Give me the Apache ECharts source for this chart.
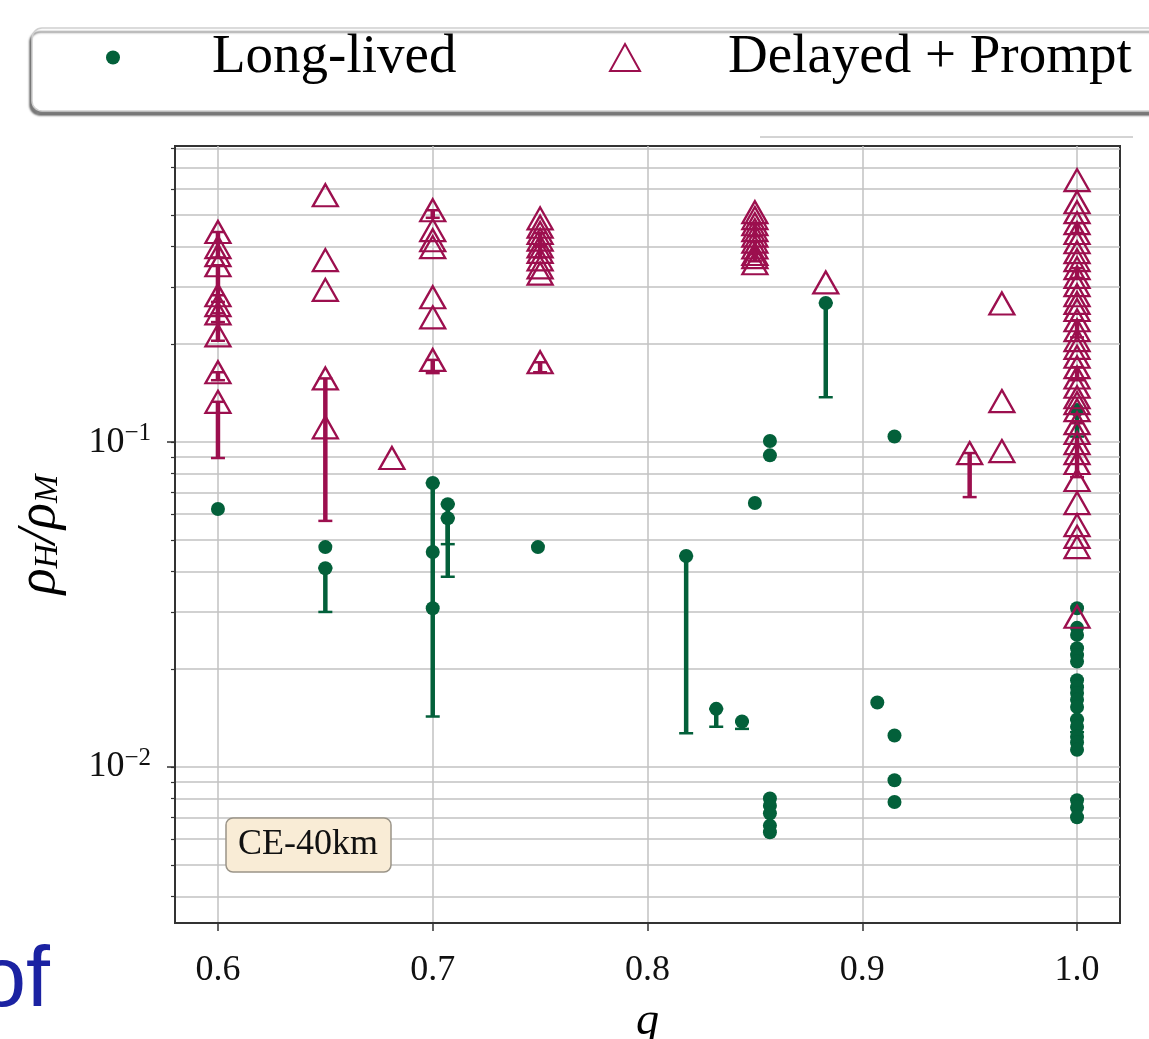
<!DOCTYPE html>
<html>
<head>
<meta charset="utf-8">
<title>CE-40km</title>
<script src="https://cdn.jsdelivr.net/npm/echarts@6/dist/echarts.min.js"></script>
<style>
  html, body { margin: 0; padding: 0; background: #fff; }
  #chart { width: 1149px; height: 1039px; }
</style>
</head>
<body>
<div id="chart"></div>
<script>
// [q, rho_H / rho_M, lower end of error bar or null]
const longLived = [
  [0.600, 0.0622, null],
  [0.650, 0.0475, null],
  [0.650, 0.0409, 0.0300],
  [0.700, 0.0748, 0.0143],
  [0.700, 0.0459, null],
  [0.700, 0.0308, null],
  [0.707, 0.0644, 0.0485],
  [0.707, 0.0583, 0.0385],
  [0.749, 0.0475, null],
  [0.818, 0.0446, 0.0127],
  [0.832, 0.0151, 0.0133],
  [0.844, 0.0138, 0.0131],
  [0.850, 0.0649, null],
  [0.857, 0.1007, null],
  [0.857, 0.0910, null],
  [0.857, 0.0080, null],
  [0.857, 0.0076, null],
  [0.857, 0.0072, null],
  [0.857, 0.0066, null],
  [0.857, 0.0063, null],
  [0.883, 0.268, 0.1374],
  [0.907, 0.0158, null],
  [0.915, 0.104, null],
  [0.915, 0.0125, null],
  [0.915, 0.0091, null],
  [0.915, 0.0078, null],
  [1.000, 0.1254, 0.104],
  [1.000, 0.0308, null],
  [1.000, 0.0268, null],
  [1.000, 0.0255, null],
  [1.000, 0.0232, null],
  [1.000, 0.0221, null],
  [1.000, 0.0211, null],
  [1.000, 0.0185, null],
  [1.000, 0.0176, null],
  [1.000, 0.0169, null],
  [1.000, 0.0161, null],
  [1.000, 0.0153, null],
  [1.000, 0.0140, 0.0128],
  [1.000, 0.0133, null],
  [1.000, 0.0124, null],
  [1.000, 0.0119, null],
  [1.000, 0.0113, null],
  [1.000, 0.0079, null],
  [1.000, 0.0075, null],
  [1.000, 0.0070, null]
];

const delayedPrompt = [
  [0.600, 0.443, 0.37],
  [0.600, 0.398, null],
  [0.600, 0.376, null],
  [0.600, 0.350, 0.27],
  [0.600, 0.283, 0.234],
  [0.600, 0.264, null],
  [0.600, 0.249, 0.205],
  [0.600, 0.213, null],
  [0.600, 0.164, 0.155],
  [0.600, 0.133, 0.0893],
  [0.650, 0.575, null],
  [0.650, 0.363, null],
  [0.650, 0.294, null],
  [0.650, 0.157, 0.0572],
  [0.650, 0.111, null],
  [0.681, 0.0893, null],
  [0.700, 0.517, 0.49],
  [0.700, 0.449, null],
  [0.700, 0.418, null],
  [0.700, 0.398, null],
  [0.700, 0.279, null],
  [0.700, 0.242, null],
  [0.700, 0.179, 0.163],
  [0.750, 0.488, null],
  [0.750, 0.460, null],
  [0.750, 0.440, 0.40],
  [0.750, 0.420, null],
  [0.750, 0.400, 0.37],
  [0.750, 0.385, null],
  [0.750, 0.365, null],
  [0.750, 0.345, null],
  [0.750, 0.330, null],
  [0.750, 0.176, 0.164],
  [0.850, 0.510, null],
  [0.850, 0.489, null],
  [0.850, 0.468, 0.43],
  [0.850, 0.449, null],
  [0.850, 0.432, null],
  [0.850, 0.414, 0.38],
  [0.850, 0.397, null],
  [0.850, 0.379, 0.36],
  [0.850, 0.371, null],
  [0.850, 0.355, null],
  [0.883, 0.310, null],
  [0.950, 0.0925, 0.0677],
  [0.965, 0.267, null],
  [0.965, 0.1337, null],
  [0.965, 0.0938, null],
  [1.000, 0.640, null],
  [1.000, 0.547, null],
  [1.000, 0.510, null],
  [1.000, 0.472, 0.44],
  [1.000, 0.440, null],
  [1.000, 0.412, null],
  [1.000, 0.384, null],
  [1.000, 0.363, null],
  [1.000, 0.343, 0.32],
  [1.000, 0.322, null],
  [1.000, 0.304, null],
  [1.000, 0.283, null],
  [1.000, 0.268, null],
  [1.000, 0.255, null],
  [1.000, 0.237, 0.21],
  [1.000, 0.221, null],
  [1.000, 0.206, null],
  [1.000, 0.195, null],
  [1.000, 0.183, null],
  [1.000, 0.170, 0.155],
  [1.000, 0.158, null],
  [1.000, 0.148, null],
  [1.000, 0.1374, null],
  [1.000, 0.1318, null],
  [1.000, 0.1254, null],
  [1.000, 0.1143, 0.078],
  [1.000, 0.1066, null],
  [1.000, 0.0993, null],
  [1.000, 0.0925, null],
  [1.000, 0.0862, null],
  [1.000, 0.0764, null],
  [1.000, 0.0649, null],
  [1.000, 0.0555, null],
  [1.000, 0.0511, null],
  [1.000, 0.0475, null],
  [1.000, 0.0290, null]
];

const xTicks = [0.6, 0.7, 0.8, 0.9, 1.0];
const yMajorTicks = [0.01, 0.1];
const yGridTicks = [
  0.004, 0.005, 0.006, 0.007, 0.008, 0.009, 0.01,
  0.02, 0.03, 0.04, 0.05, 0.06, 0.07, 0.08, 0.09, 0.1,
  0.2, 0.3, 0.4, 0.5, 0.6, 0.7, 0.8
];

const GREEN = '#03603a';
const CRIMSON = '#9c0f4e';
const SERIF = '"Liberation Serif", "DejaVu Serif", serif';

function errorBars(rows) {
  return rows.filter(r => r[2] != null).map(r => [r[0], r[1], r[2]]);
}

function errorBarItem(color) {
  return function (params, api) {
    const top = api.coord([api.value(0), api.value(1)]);
    const bottom = api.coord([api.value(0), api.value(2)]);
    const cap = 7;
    return {
      type: 'group',
      children: [
        { type: 'line', shape: { x1: top[0], y1: top[1], x2: bottom[0], y2: bottom[1] },
          style: { stroke: color, lineWidth: 4.5 } },
        { type: 'line', shape: { x1: top[0] - cap, y1: top[1], x2: top[0] + cap, y2: top[1] },
          style: { stroke: color, lineWidth: 2.5 } },
        { type: 'line', shape: { x1: bottom[0] - cap, y1: bottom[1], x2: bottom[0] + cap, y2: bottom[1] },
          style: { stroke: color, lineWidth: 2.5 } }
      ]
    };
  };
}

const chart = echarts.init(document.getElementById('chart'));

chart.setOption({
  animation: false,
  backgroundColor: '#fff',
  grid: {
    left: 175, right: 29, top: 146, bottom: 116,
    outerBoundsMode: 'none',
    show: true, borderColor: '#333', borderWidth: 2
  },
  legend: [
    {
      data: [{ name: 'Long-lived', icon: 'circle' }],
      left: 106, top: 30, padding: 0,
      itemWidth: 14, itemHeight: 14,
      selectedMode: false,
      textStyle: { fontFamily: SERIF, fontSize: 55, color: '#000', padding: [0, 0, 0, 87] }
    },
    {
      data: [{ name: 'Delayed + Prompt', icon: 'triangle',
               itemStyle: { color: 'rgba(0,0,0,0)', borderColor: CRIMSON, borderWidth: 2 } }],
      left: 609, top: 30, padding: 0,
      itemWidth: 30, itemHeight: 27,
      selectedMode: false,
      textStyle: { fontFamily: SERIF, fontSize: 55, color: '#000', padding: [0, 0, 0, 83] }
    }
  ],
  xAxis: {
    type: 'value',
    min: 0.58, max: 1.02,
    name: 'q',
    nameLocation: 'middle',
    nameGap: 76,
    nameTextStyle: { fontFamily: SERIF, fontStyle: 'italic', fontSize: 46, color: '#000' },
    axisLine: { lineStyle: { color: '#333', width: 2 } },
    axisTick: { customValues: xTicks, length: 8, lineStyle: { color: '#333', width: 1.5 } },
    axisLabel: {
      customValues: xTicks, margin: 30,
      formatter: v => v.toFixed(1),
      fontFamily: SERIF, fontSize: 36, color: '#111'
    },
    splitLine: { show: true, lineStyle: { color: '#c2c2c2', width: 1.5 } }
  },
  yAxis: [
    {
      type: 'log',
      min: 0.00331, max: 0.815,
      position: 'left',
      name: '{r|ρ}{s|H}{r|/ρ}{s|M}',
      nameLocation: 'middle',
      nameGap: 108,
      nameRotate: 90,
      nameTextStyle: {
        rich: {
          r: { fontFamily: SERIF, fontStyle: 'italic', fontSize: 54, color: '#000' },
          s: { fontFamily: SERIF, fontStyle: 'italic', fontSize: 34, color: '#000', padding: [16, 0, 0, 0] }
        }
      },
      axisLine: { show: true, lineStyle: { color: '#333', width: 2 } },
      axisTick: { customValues: yGridTicks, length: 4, lineStyle: { color: '#333', width: 1.2 } },
      axisLabel: { show: false },
      splitLine: { show: true, lineStyle: { color: '#c2c2c2', width: 1.5 } }
    },
    {
      type: 'log',
      min: 0.00331, max: 0.815,
      position: 'left',
      axisLine: { show: false },
      axisTick: { show: true, customValues: yMajorTicks, length: 8, lineStyle: { color: '#333', width: 1.5 } },
      axisLabel: {
        customValues: yMajorTicks,
        margin: 24,
        formatter: v => '{b|10}{s|−' + Math.round(-Math.log10(v)) + '}',
        rich: {
          b: { fontFamily: SERIF, fontSize: 36, color: '#111' },
          s: { fontFamily: SERIF, fontSize: 25, color: '#111', padding: [0, 0, 18, 0] }
        }
      },
      splitLine: { show: false }
    }
  ],
  graphic: [
    {
      type: 'rect', z: -1,
      shape: { x: 32, y: 28, width: 1150, height: 83, r: 10 },
      style: { fill: '#fff', stroke: '#cfcfcf', lineWidth: 1.5,
               shadowColor: 'rgba(0,0,0,0.5)', shadowBlur: 2, shadowOffsetX: -2, shadowOffsetY: 4 }
    },
    {
      type: 'line',
      shape: { x1: 760, y1: 137, x2: 1133, y2: 137 },
      style: { stroke: '#a8a8a8', lineWidth: 1 }
    },
    {
      type: 'rect', z: 10,
      shape: { x: 226, y: 818, width: 165, height: 54, r: 7 },
      style: { fill: '#f9ecd6', stroke: '#9a9488', lineWidth: 1.5 }
    },
    {
      type: 'text', z: 11,
      x: 308, y: 845,
      style: { text: 'CE-40km', fontFamily: SERIF, fontSize: 36, fill: '#111',
               textAlign: 'center', textVerticalAlign: 'middle' }
    },
    {
      type: 'text',
      x: 50, y: 982,
      style: { text: 'of', fontFamily: '"Liberation Sans", Arial, sans-serif', fontSize: 86,
               fill: '#1b22a2', textAlign: 'right', textVerticalAlign: 'middle' }
    }
  ],
  series: [
    {
      name: 'Delayed + Prompt bars',
      type: 'custom',
      renderItem: errorBarItem(CRIMSON),
      encode: { x: 0, y: [1, 2] },
      data: errorBars(delayedPrompt),
      z: 2
    },
    {
      name: 'Long-lived bars',
      type: 'custom',
      renderItem: errorBarItem(GREEN),
      encode: { x: 0, y: [1, 2] },
      data: errorBars(longLived),
      z: 2
    },
    {
      name: 'Long-lived',
      type: 'scatter',
      symbol: 'circle',
      symbolSize: 14,
      itemStyle: { color: GREEN, opacity: 1 },
      data: longLived.map(r => [r[0], r[1]]),
      z: 3
    },
    {
      name: 'Delayed + Prompt',
      type: 'scatter',
      symbol: 'triangle',
      symbolSize: [25, 22],
      itemStyle: { color: 'rgba(0,0,0,0)', borderColor: CRIMSON, borderWidth: 2.3, opacity: 1 },
      data: delayedPrompt.map(r => [r[0], r[1]]),
      z: 4
    }
  ]
});
</script>
</body>
</html>
